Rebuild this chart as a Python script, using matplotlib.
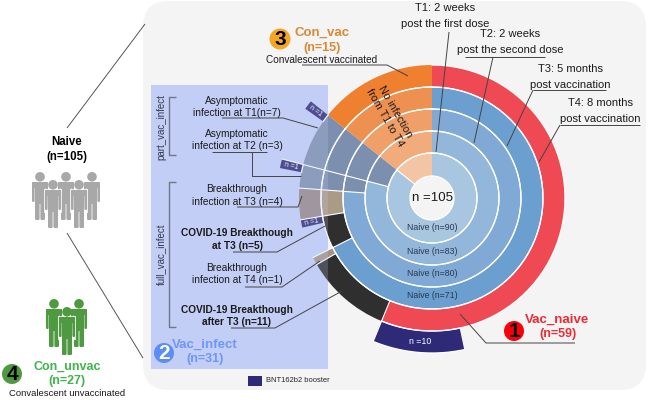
import numpy as np
import matplotlib
matplotlib.use('Agg')
import matplotlib.pyplot as plt
from matplotlib.patches import Circle, FancyBboxPatch, Rectangle

plt.rcParams['font.family'] = ['Liberation Sans', 'DejaVu Sans']

W, H = 649, 400

# Participants per ring, clockwise from 12 o'clock (total is always 105)
TOTAL = 105
ring1_counts = [90, 15]
ring2_counts = [83, 7, 15]
ring3_counts = [80, 3, 7, 15]
ring4_counts = [71, 5, 4, 3, 7, 15]
ring5_counts = [59, 11, 1, 4, 1, 4, 3, 7, 15]
booster_counts = [49, 10, 23, 1, 6, 1, 15]

# Colours per segment, None means nothing is drawn
SLATE = '#7d8fae'
NAVY = '#2e2a78'
BLACK = '#2f2f2f'
ring1_colors = ['#a9c6e0', '#f4c5a4']
ring2_colors = ['#93b7db', SLATE, '#f2ab7a']
ring3_colors = ['#80aad5', SLATE, SLATE, '#f09f68']
ring4_colors = ['#6a9fcf', BLACK, '#ab9a85', SLATE, SLATE, '#ee9050']
ring5_colors = ['#ef4a54', BLACK, '#a39488', None, NAVY, '#958788', SLATE, SLATE, '#ee8030']
booster_colors = [None, NAVY, None, NAVY, None, NAVY, None]

rings = [ring1_counts, ring2_counts, ring3_counts, ring4_counts, ring5_counts, booster_counts]
ring_colors = [ring1_colors, ring2_colors, ring3_colors, ring4_colors, ring5_colors, booster_colors]
ring_edges = [22, 45, 67, 89, 111, 133, 155]

naive_labels = ['Naive (n=90)', 'Naive (n=83)', 'Naive (n=80)', 'Naive (n=71)']

# white spokes: cumulative count, from radius, to radius
spoke_n = [59, 70, 71, 76, 80, 83, 90]
spoke_r0 = [111, 111, 89, 89, 67, 45, 22]
spoke_r1 = [155, 133, 133, 133, 133, 155, 45]

fig = plt.figure(figsize=(W / 100, H / 100), dpi=100, facecolor='white')

# background layer
bg = fig.add_axes([0, 0, 1, 1], zorder=0)
bg.set_xlim(0, W)
bg.set_ylim(H, 0)
bg.axis('off')
bg.add_patch(FancyBboxPatch((143, 1), 503, 389, boxstyle='round,pad=0,rounding_size=26', fc='#f4f4f4', ec='none'))
bg.add_patch(Rectangle((151, 85), 177, 284, fc='#c3cef6', ec='none'))

# sunburst on a polar axes, one unit of r is one pixel
cx, cy, rmax = 432, 198, 160
pol = fig.add_axes([(cx - rmax) / W, 1 - (cy + rmax) / H, 2 * rmax / W, 2 * rmax / H],
                   projection='polar', zorder=1)
pol.set_theta_zero_location('N')
pol.set_theta_direction(-1)
pol.set_ylim(0, rmax)
pol.axis('off')
pol.patch.set_alpha(0)

for i, (counts, colors) in enumerate(zip(rings, ring_colors)):
    start = 0
    for n, c in zip(counts, colors):
        t0 = 2 * np.pi * start / TOTAL
        width = 2 * np.pi * n / TOTAL
        if c is not None:
            pol.bar(t0 + width / 2, ring_edges[i + 1] - ring_edges[i], width=width,
                    bottom=ring_edges[i], color=c, linewidth=0)
            arc = np.linspace(t0, t0 + width, 60)
            pol.plot(arc, np.full(60, ring_edges[i]), color='white', lw=0.9)
            if i < 4 or n == 10 or n == 59:
                pol.plot(arc, np.full(60, ring_edges[i + 1]), color='white', lw=0.9)
        start += n

for n, r0, r1 in zip(spoke_n, spoke_r0, spoke_r1):
    t = 2 * np.pi * n / TOTAL
    pol.plot([t, t], [r0, r1], color='white', lw=0.8)
pol.set_ylim(0, rmax)

# annotation layer
ax = fig.add_axes([0, 0, 1, 1], zorder=2)
ax.set_xlim(0, W)
ax.set_ylim(H, 0)
ax.axis('off')
ax.patch.set_alpha(0)
ax.add_patch(Rectangle((151, 85), 177, 284, fc='#c3cef6', ec='none', alpha=0.22))


def txt(x, y, s, size=7.3, color='#1a1a1a', weight='normal', rot=0):
    ax.text(x, y, s, fontsize=size, color=color, fontweight=weight, rotation=rot,
            ha='center', va='center', rotation_mode='anchor')


def leader(xs, ys, color='#444444', lw=0.7):
    ax.plot(xs, ys, color=color, lw=lw, solid_capstyle='butt')


def badge(x, y, s, color, txtcolor, r=10):
    ax.add_patch(Circle((x, y), r, fc=color, ec='none'))
    ax.text(x, y + 0.5, s, fontsize=15, fontweight='bold', color=txtcolor, ha='center', va='center')


def person(x, y, color, front=False):
    # little pictogram, y is top of the head
    if front:
        ax.add_patch(Rectangle((x - 9, y + 9), 18, 24, fc='white', ec='none', alpha=0.8))
    parts = [(x - 8, y + 10, 16, 6), (x - 8, y + 10, 2.6, 20), (x + 5.4, y + 10, 2.6, 20),
             (x - 5, y + 10, 10, 22), (x - 5, y + 30, 4.6, 18), (x + 0.4, y + 30, 4.6, 18)]
    for px, py, w, h in parts:
        ax.add_patch(FancyBboxPatch((px, py), w, h, boxstyle='round,pad=0,rounding_size=1.2',
                                    fc=color, ec='none'))
    ax.add_patch(Circle((x, y + 4.8), 4.8, fc=color, ec='none'))


# centre and ring text
txt(432, 198, 'n =105', size=9.5)
for y, s in zip([228, 252, 274, 296], naive_labels):
    txt(432, y, s, size=6.3, color='#27384f')
txt(420, 341, 'n =10', size=6.3, color='white')
txt(390, 115, 'No infection\nfrom T1 to T4', size=7.8, rot=-60)
txt(315.5, 111, 'n =1', size=5, color='white', rot=-37)
txt(291, 166, 'n =1', size=5, color='white', rot=-13)
txt(312, 222, 'n =1', size=5, color='white', rot=11)

# time point labels, top right
txt(445, 8, 'T1: 2 weeks', size=8)
txt(445, 24, 'post the first dose', size=8)
leader([449, 436], [32, 152])
txt(510, 34, 'T2: 2 weeks', size=8)
txt(510, 50, 'post the second dose', size=8)
leader([465, 545], [57, 57])
leader([493, 474], [57, 143])
txt(570, 69, 'T3: 5 months', size=8)
txt(570, 85, 'post vaccination', size=8)
leader([533, 606], [90, 90])
leader([533, 507], [90, 146])
txt(600, 103, 'T4: 8 months', size=8)
txt(600, 119, 'post vaccination', size=8)
leader([560, 640], [125, 125])
leader([560, 539], [125, 162])

# Con_vac
badge(280, 39, '3', '#f5a623', 'black', r=10.5)
txt(322, 33, 'Con_vac', size=9.5, color='#d98a35', weight='bold')
txt(322, 48, '(n=15)', size=9, color='#d98a35', weight='bold')
txt(322, 60, 'Convalescent vaccinated', size=7.2)
leader([302, 387, 408], [65, 65, 76])

# Vac_infect panel
pl = 237
txt(pl, 101, 'Asymptomatic')
txt(pl, 113, 'infection at T1(n=7)')
leader([222, 283, 318], [118, 118, 128])
txt(pl, 134, 'Asymptomatic')
txt(pl, 146, 'infection at T2 (n=3)')
leader([212, 267], [152, 152])
leader([252, 252, 301], [152, 176, 176])
txt(pl, 189, 'Breakthrough')
txt(pl, 202, 'infection at T3 (n=4)')
leader([237, 298, 302], [207, 207, 196])
txt(pl, 233, 'COVID-19 Breakthough', weight='bold')
txt(pl, 246, 'at T3 (n=5)', weight='bold')
leader([233, 277, 325], [252, 252, 226])
txt(pl, 268, 'Breakthrough')
txt(pl, 280, 'infection at T4 (n=1)')
leader([245, 282, 320], [287, 287, 261])
txt(pl, 310, 'COVID-19 Breakthough', weight='bold')
txt(pl, 322, 'after T3 (n=11)', weight='bold')
leader([231, 275, 342], [328, 328, 291])

txt(161, 127, 'part_vac_infect', size=7, rot=90, color='#333a4d')
txt(161, 254, 'full_vac_infect', size=7, rot=90, color='#333a4d')
leader([176, 169, 169, 176], [97, 97, 155, 155], color='#6f7688', lw=1)
leader([176, 169, 169, 176], [182, 182, 327, 327], color='#6f7688', lw=1)

badge(164, 353, '2', '#5d8cf6', 'white')
txt(205, 345, 'Vac_infect', size=9.5, color='#6f97f7', weight='bold')
txt(205, 359, '(n=31)', size=9, color='#6f97f7', weight='bold')

ax.add_patch(Rectangle((248, 376), 14, 10, fc=NAVY, ec='none'))
ax.text(265.5, 381, 'BNT162b2 booster', fontsize=5.4, color='#222222', va='center')

# Vac_naive
badge(514, 331, '1', '#fb0007', 'black')
txt(557, 320, 'Vac_naive', size=9.5, color='#ee2b35', weight='bold')
txt(558, 334, '(n=59)', size=9, color='#ee2b35', weight='bold')
leader([575, 486, 460], [343, 343, 314])

# left side groups
leader([145, 67], [24, 128], color='#555555')
leader([67, 143], [233, 358], color='#555555')
txt(67, 142, 'Naive', size=8.3, color='black', weight='bold')
txt(67, 157, '(n=105)', size=8.3, color='black', weight='bold')
for x in [40, 66, 92]:
    person(x, 172, '#a8a8a8')
for x in [53, 79]:
    person(x, 180, '#a8a8a8', front=True)

for x in [54, 79]:
    person(x, 299, '#4f9a41')
person(67, 307, '#4f9a41', front=True)
badge(12, 374, '4', '#4f9a41', 'black')
txt(67, 367, 'Con_unvac', size=9, color='#3fb54a', weight='bold')
txt(67, 381, '(n=27)', size=9, color='#3fb54a', weight='bold')
txt(67, 394, 'Convalescent unvaccinated', size=6.8)

fig.savefig('out.png', dpi=100)
